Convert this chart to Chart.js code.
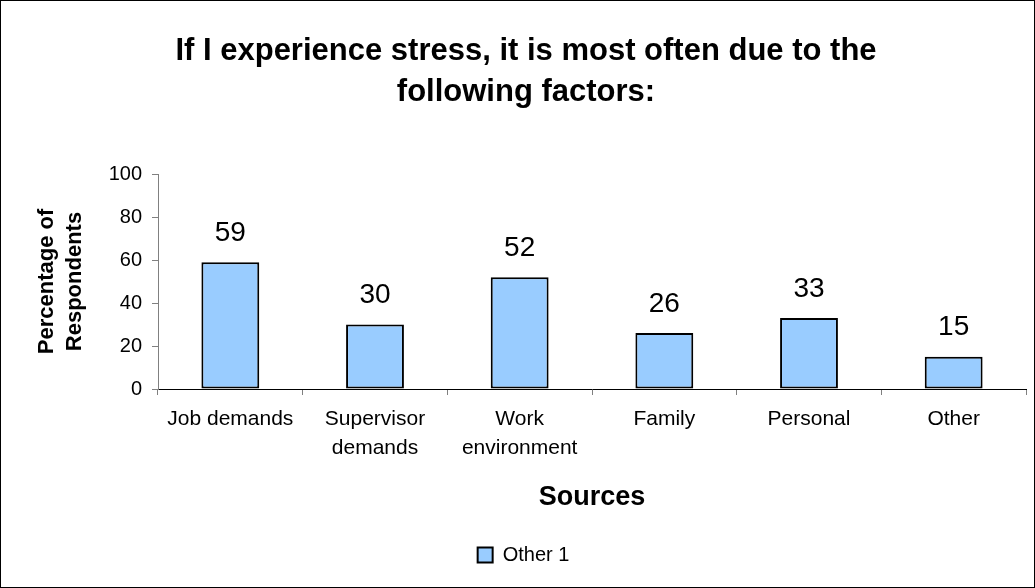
<!DOCTYPE html>
<html>
<head>
<meta charset="utf-8">
<script src="https://cdn.jsdelivr.net/npm/chart.js@4.4.0/dist/chart.umd.min.js"></script>
<style>
  body { margin: 0; background: #fff; }
  #box { width: 1035px; height: 588px; box-sizing: border-box; border: 1px solid #000; }
</style>
</head>
<body>
<div id="box"><canvas id="stressChart" width="1033" height="586"></canvas></div>
<script>
var categories = [["Job demands"], ["Supervisor", "demands"], ["Work", "environment"], ["Family"], ["Personal"], ["Other"]];
var values = [59, 30, 52, 26, 33, 15];
var yTicks = [0, 20, 40, 60, 80, 100];
var titleLines = ["If I experience stress, it is most often due to the", "following factors:"];

var FONT = "'Liberation Sans', Arial, sans-serif";

// title drawn by hand so it sits where the original has it
var titlePlugin = {
    id: 'leftTitle',
    afterDraw: function(chart) {
        var ctx = chart.ctx;
        ctx.save();
        ctx.fillStyle = '#000';
        ctx.font = 'bold 31px ' + FONT;
        ctx.textAlign = 'center';
        ctx.textBaseline = 'middle';
        ctx.fillText(titleLines[0], 525, 50);
        ctx.fillText(titleLines[1], 525, 91);
        ctx.restore();
    }
};

// value labels over bars
var valuePlugin = {
    id: 'valueLabels',
    afterDatasetsDraw: function(chart) {
        var ctx = chart.ctx;
        var meta = chart.getDatasetMeta(0);
        ctx.save();
        ctx.fillStyle = '#000';
        ctx.font = '28px ' + FONT;
        ctx.textAlign = 'center';
        ctx.textBaseline = 'middle';
        meta.data.forEach(function(bar, i) {
            ctx.fillText(values[i], bar.x, bar.y - 29);
        });
        ctx.restore();
    }
};

var ctx = document.getElementById("stressChart").getContext('2d');
var stressChart = new Chart(ctx, {
    type: 'bar',
    data: {
        labels: categories,
        datasets: [{
            label: 'Other 1',
            data: values,
            backgroundColor: '#99CCFF',
            borderColor: '#000',
            borderWidth: 2,
            borderSkipped: false,
            barPercentage: 0.4,
            categoryPercentage: 1
        }]
    },
    plugins: [titlePlugin, valuePlugin],
    options: {
        responsive: false,
        animation: false,
        layout: { padding: { top: 173, left: 20, right: 8, bottom: 12 } },
        plugins: {
            title: { display: false },
            tooltip: { enabled: false },
            legend: {
                position: 'bottom',
                labels: {
                    color: '#000',
                    font: { family: FONT, size: 20 },
                    boxWidth: 15,
                    boxHeight: 15,
                    padding: 6,
                    useBorderRadius: false
                }
            }
        },
        scales: {
            x: {
                afterFit: function(scale) { scale.height = 150; },
                grid: { drawOnChartArea: false, tickLength: 6, color: '#808080', offset: true },
                border: { color: '#000', width: 1 },
                ticks: { color: '#000', padding: 10, maxRotation: 0, autoSkip: false,
                         font: { family: FONT, size: 21, lineHeight: 1.38 } },
                title: { display: true, text: 'Sources', color: '#000', padding: { top: 0, bottom: 28 },
                         font: { family: FONT, size: 27, weight: 'bold', lineHeight: 1 } }
            },
            y: {
                min: 0,
                max: 100,
                afterFit: function(scale) { scale.width = 137; },
                afterBuildTicks: function(scale) {
                    scale.ticks = yTicks.map(function(v) { return { value: v }; });
                },
                grid: { drawOnChartArea: false, tickLength: 6, color: '#808080' },
                border: { color: '#808080', width: 1 },
                ticks: { color: '#000', padding: 10, font: { family: FONT, size: 20 } },
                title: { display: true, text: ['Percentage of', 'Respondents'], color: '#000',
                         padding: { top: 12, bottom: 0 },
                         font: { family: FONT, size: 22, weight: 'bold', lineHeight: 1.27 } }
            }
        }
    }
});
</script>
</body>
</html>
